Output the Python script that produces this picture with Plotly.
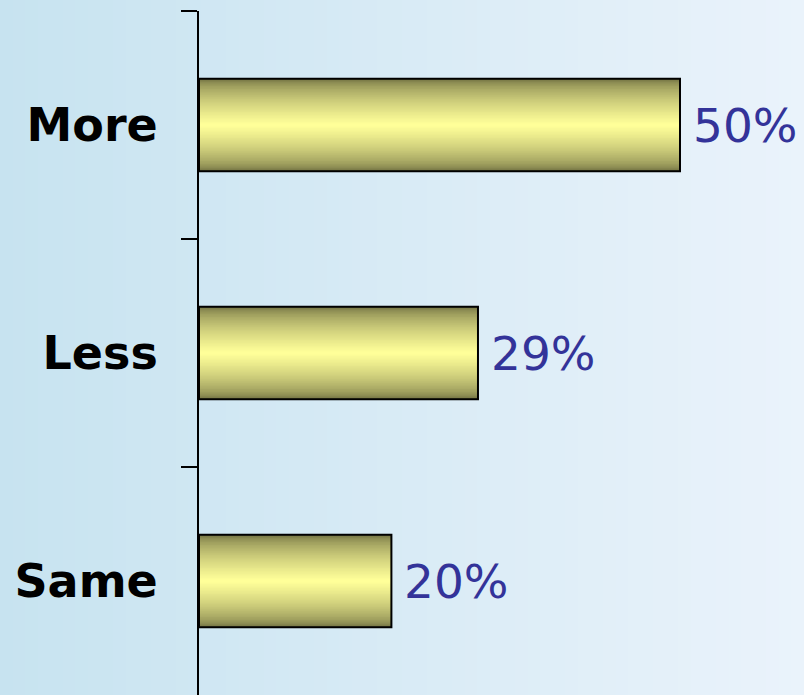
import plotly.graph_objects as go

# ---- data ----
categories = ["More", "Less", "Same"]
values = [50, 29, 20]
value_labels = ["50%", "29%", "20%"]

W, H = 804, 695
AXIS_X = 199
PX_PER_UNIT = 9.62
BAR_WIDTH = 0.405

def lerp(c1, c2, t):
    return "rgb(%d,%d,%d)" % tuple(round(a + (b - a) * t) for a, b in zip(c1, c2))

fig = go.Figure()

# background gradient (left bluish -> right lighter)
bg_steps = list(range(64))
fig.add_trace(go.Heatmap(
    z=[bg_steps], colorscale=[[0, "rgb(199,227,240)"], [1, "rgb(234,243,251)"]],
    showscale=False, hoverinfo="skip", xaxis="x", yaxis="y"))

# gradient bars: stacked overlay bars, dark olive edges -> bright yellow centre
dark = (112, 112, 66)
bright = (255, 255, 153)
N = 32
for k in range(N):
    t = k / (N - 1)
    w = BAR_WIDTH * (1 - k / N)
    fig.add_trace(go.Bar(
        x=values, y=categories, orientation="h", width=w,
        marker=dict(color=lerp(dark, bright, t ** 0.6), line=dict(width=0)),
        hoverinfo="skip", showlegend=False, xaxis="x2", yaxis="y2"))

# outline
fig.add_trace(go.Bar(
    x=values, y=categories, orientation="h", width=BAR_WIDTH,
    marker=dict(color="rgba(0,0,0,0)", line=dict(color="black", width=2)),
    hoverinfo="skip", showlegend=False, xaxis="x2", yaxis="y2"))

for v, c, lab in zip(values, categories, value_labels):
    fig.add_annotation(x=v, y=c, xref="x2", yref="y2", text=lab, showarrow=False,
                       xanchor="left", yanchor="middle", xshift=11,
                       font=dict(family="DejaVu Sans", size=47, color="#333399"))

x2_range = (W - AXIS_X) / PX_PER_UNIT
fig.update_layout(
    width=W, height=H, margin=dict(l=0, r=0, t=0, b=0),
    paper_bgcolor="rgb(215,234,244)", plot_bgcolor="rgba(0,0,0,0)",
    barmode="overlay", showlegend=False,
    xaxis=dict(domain=[0, 1], range=[-0.5, 63.5], visible=False, fixedrange=True),
    yaxis=dict(domain=[0, 1], range=[-0.5, 0.5], visible=False, fixedrange=True),
    xaxis2=dict(domain=[AXIS_X / W, 1], range=[0, x2_range], anchor="y2",
                showline=False, showgrid=False, zeroline=False, showticklabels=False, ticks=""),
    yaxis2=dict(domain=[0, (H - 11) / H], anchor="x2", type="category",
                categoryorder="array", categoryarray=categories, range=[2.5, -0.5],
                showline=True, linecolor="black", linewidth=2, showgrid=False, zeroline=False,
                ticks="outside", tickson="boundaries", ticklen=16, tickwidth=2, tickcolor="black",
                ticklabelstandoff=30,
                tickfont=dict(family="DejaVu Sans", size=46, color="black", weight="bold")),
)

fig.write_html("out.html", config={"displayModeBar": False},
               post_script="document.body.style.margin='0';document.body.style.overflow='hidden';")
